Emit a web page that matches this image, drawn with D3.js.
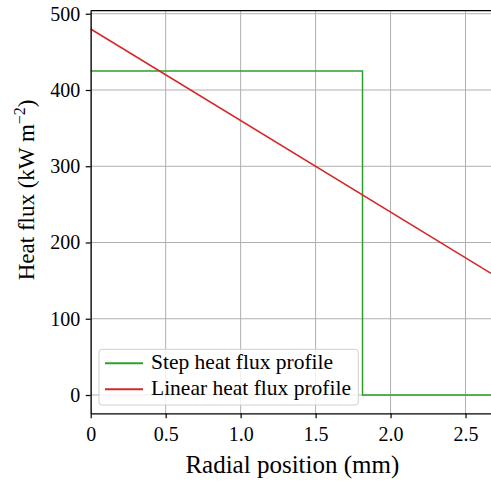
<!DOCTYPE html>
<html>
<head>
<meta charset="utf-8">
<script src="https://cdn.jsdelivr.net/npm/d3@7"></script>
<style>
  body { margin: 0; background: #fff; }
  svg, svg text { font-family: 'Liberation Serif', 'DejaVu Serif', serif; }
</style>
</head>
<body>
<div id="wrapper"></div>
<script>
// data
const stepX = [0, 1.813, 1.813, 2.67]
const stepY = [425, 425, 0, 0]
const linearX = [0, 2.67]
const linearY = [480, 159.6]
const xTicks = [0, 0.5, 1.0, 1.5, 2.0, 2.5]
const xTickLabels = ["0", "0.5", "1.0", "1.5", "2.0", "2.5"]
const yTicks = [0, 100, 200, 300, 400, 500]
const seriesNames = ["Step heat flux profile", "Linear heat flux profile"]
const seriesColors = ["#2ca02c", "#d62728"]

function drawChart() {
    let dimensions = {
        width: 491,
        height: 481,
        margin: { top: 10.7, right: 0, bottom: 67.7, left: 90.7 },
    }
    dimensions.boundedWidth = dimensions.width - dimensions.margin.left - dimensions.margin.right
    dimensions.boundedHeight = dimensions.height - dimensions.margin.top - dimensions.margin.bottom

    const wrapper = d3.select("#wrapper").append("svg")
        .attr("width", dimensions.width)
        .attr("height", dimensions.height)

    const bounds = wrapper.append("g")
        .attr("transform", `translate(${dimensions.margin.left},${dimensions.margin.top})`)

    const xScale = d3.scaleLinear()
        .domain([0, 2.67])
        .range([0, dimensions.boundedWidth])
    const yScale = d3.scaleLinear()
        .domain([-24, 504])
        .range([dimensions.boundedHeight, 0])

    // grid
    bounds.append("g").selectAll("line").data(xTicks).join("line")
        .attr("x1", d => xScale(d)).attr("x2", d => xScale(d))
        .attr("y1", 0).attr("y2", dimensions.boundedHeight)
        .attr("stroke", "#b0b0b0").attr("stroke-width", 1)
    bounds.append("g").selectAll("line").data(yTicks).join("line")
        .attr("x1", 0).attr("x2", dimensions.boundedWidth)
        .attr("y1", d => yScale(d)).attr("y2", d => yScale(d))
        .attr("stroke", "#b0b0b0").attr("stroke-width", 1)

    const line = d3.line().x(d => xScale(d[0])).y(d => yScale(d[1]))

    bounds.append("path")
        .attr("d", line(d3.zip(stepX, stepY)))
        .attr("fill", "none").attr("stroke", seriesColors[0]).attr("stroke-width", 1.5)
    bounds.append("path")
        .attr("d", line(d3.zip(linearX, linearY)))
        .attr("fill", "none").attr("stroke", seriesColors[1]).attr("stroke-width", 1.5)

    // axes
    const xAxis = bounds.append("g")
        .attr("transform", `translate(0,${dimensions.boundedHeight})`)
        .call(d3.axisBottom(xScale).tickValues(xTicks).tickFormat((d, i) => xTickLabels[i]).tickSize(5).tickPadding(9).tickSizeOuter(0))
    const yAxis = bounds.append("g")
        .call(d3.axisLeft(yScale).tickValues(yTicks).tickSize(5).tickPadding(5.5).tickSizeOuter(0))
    for (const ax of [xAxis, yAxis]) {
        ax.attr("font-family", null).attr("font-size", null)
        ax.select(".domain").attr("stroke", "#000").attr("stroke-width", 1.2)
        ax.selectAll(".tick line").attr("stroke", "#000").attr("stroke-width", 1.2)
        ax.selectAll(".tick text").attr("fill", "#000").style("font-size", "20px")
    }
    // top spine
    bounds.append("line")
        .attr("x1", 0).attr("x2", dimensions.boundedWidth)
        .attr("y1", 0).attr("y2", 0)
        .attr("stroke", "#000").attr("stroke-width", 1.2)

    // axis labels
    wrapper.append("text")
        .attr("x", dimensions.margin.left + xScale(1.345))
        .attr("y", 473)
        .attr("text-anchor", "middle")
        .style("font-size", "25px")
        .text("Radial position (mm)")

    const yl = wrapper.append("text")
        .attr("transform", `translate(34,${dimensions.margin.top + yScale(269)}) rotate(-90)`)
        .attr("text-anchor", "middle")
        .style("font-size", "23px")
    yl.append("tspan").text("Heat flux (kW m")
    yl.append("tspan").attr("dy", -9).style("font-size", "16px").text("\u22122")
    yl.append("tspan").attr("dy", 9).text(")")

    // legend
    const legend = bounds.append("g").attr("transform", "translate(8.3,338.6)")
    legend.append("rect")
        .attr("width", 259.3).attr("height", 55.7)
        .attr("rx", 3)
        .attr("fill", "#fff").attr("fill-opacity", 0.8)
        .attr("stroke", "#d0d0d0").attr("stroke-width", 1)
    const items = legend.selectAll("g.item").data(seriesNames).join("g")
        .attr("class", "item")
        .attr("transform", (d, i) => `translate(0,${14 + i * 26})`)
    items.append("line")
        .attr("x1", 6).attr("x2", 44)
        .attr("stroke", (d, i) => seriesColors[i]).attr("stroke-width", 2)
    items.append("text")
        .attr("x", 52).attr("y", 5.5)
        .style("font-size", "21.5px")
        .text(d => d)
}
drawChart()
</script>
</body>
</html>
